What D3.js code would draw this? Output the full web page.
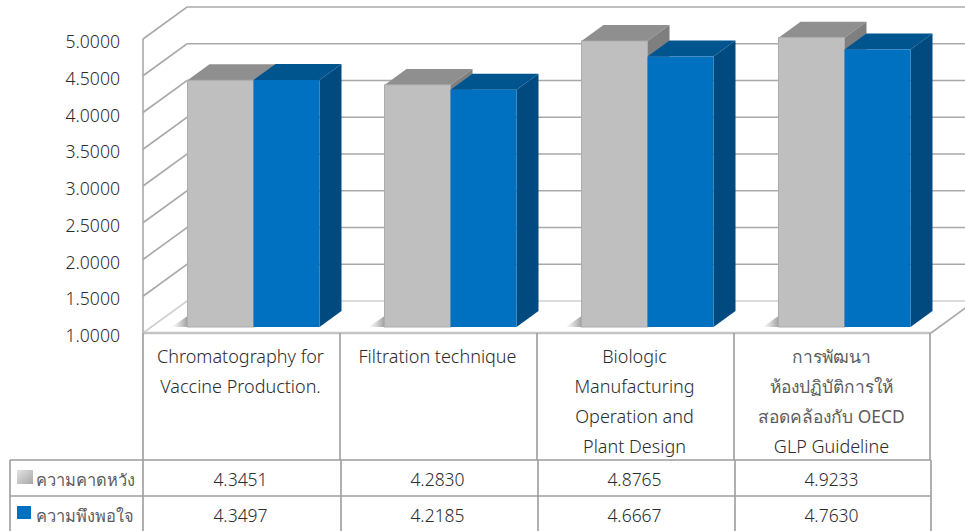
<!DOCTYPE html>
<html><head><meta charset="utf-8">
<script src="https://cdn.jsdelivr.net/npm/d3@7"></script>
<style>html,body{margin:0;padding:0;background:#fff;overflow:hidden}svg{display:block}text{font-family:"Noto Sans","Open Sans","DejaVu Sans",sans-serif;font-weight:300;fill:#2c2c2c}</style>
</head><body><div id="c"></div>
<script>
const categories = ["cat1","cat2","cat3","cat4"];
const categoryLines = [
  ["Chromatography for","Vaccine Production."],
  ["Filtration technique"],
  ["Biologic","Manufacturing","Operation and","Plant Design"],
  ["การพัฒนา","ห้องปฏิบัติการให้","สอดคล้องกับ OECD","GLP Guideline"]
];
const seriesNames = ["ความคาดหวัง","ความพึงพอใจ"];
const expected = [4.3451,4.2830,4.8765,4.9233];
const satisfied = [4.3497,4.2185,4.6667,4.7630];
const seriesValues = [expected,satisfied];
const tickValues = [1,1.5,2,2.5,3,3.5,4,4.5,5];

const W=965,H=531;
const svg=d3.select("#c").append("svg").attr("width",W).attr("height",H);
const defs=svg.append("defs");
const sw=defs.append("linearGradient").attr("id","sw").attr("x1",0).attr("y1",0).attr("x2",1).attr("y2",1);
sw.append("stop").attr("offset",0).attr("stop-color","#e2e2e2");
sw.append("stop").attr("offset",1).attr("stop-color","#a8a8a8");
const sh=defs.append("linearGradient").attr("id","sh").attr("x1",0).attr("y1",0).attr("x2",1).attr("y2",0);
sh.append("stop").attr("offset",0).attr("stop-color","#999").attr("stop-opacity",0);
sh.append("stop").attr("offset",1).attr("stop-color","#777").attr("stop-opacity",0.7);

const x=d3.scaleBand().domain(categories).range([143,931]);
const y=d3.scaleLinear().domain([1,5]).range([333,39]);
const yBar=d3.scaleLinear().domain([1,5]).range([327,32]);
const xs=d3.scaleBand().domain([0,1]).range([44.5,176.5]);
const depth={dx:44,dy:-32};
const barDepth={dx:22,dy:-16};
const gridC="#a9a9a9", tableC="#9c9c9c";

// walls
const g=svg.append("g").attr("fill","none").attr("stroke",gridC).attr("stroke-width",1.6);
tickValues.forEach(v=>{
  const yy=y(v);
  g.append("path").attr("d",`M143,${yy}L${143+depth.dx},${yy+depth.dy}L${W},${yy+depth.dy}`)
    .attr("stroke",v===1?"#cfcfcf":gridC);
});
g.append("line").attr("x1",143).attr("x2",143).attr("y1",y(5)).attr("y2",y(1));
g.append("path").attr("d",`M931,${y(1)}L${931+depth.dx},${y(1)+depth.dy}`).attr("stroke",gridC);
g.append("line").attr("x1",143).attr("x2",931).attr("y1",y(1)).attr("y2",y(1)).attr("stroke","#c4c4c4").attr("stroke-width",2.4);

// axis labels
const axis=d3.axisLeft(y).tickValues(tickValues).tickFormat(d3.format(".4f")).tickSize(0);
const ax=svg.append("g").attr("transform","translate(120,3)").call(axis);
ax.select(".domain").remove();
ax.selectAll("text").attr("font-size",17.6).attr("dx",0).attr("x",0).style("fill","#2c2c2c");

// bars
const palette=[{f:"#bfbfbf",t:"#8f8f8f",s:"#7f7f7f"},{f:"#0070c0",t:"#00558f",s:"#004a80"}];
const bars=svg.append("g");
categories.forEach((c,i)=>{
  const x0=x(c)+xs(0);
  bars.append("path").attr("d",`M${x0-16},327L${x0},327L${x0},316Z`).attr("fill","url(#sh)");
  [0,1].forEach(s=>{
    const p=palette[s];
    const l=x(c)+xs(s), r=l+xs.bandwidth();
    const t=yBar(seriesValues[s][i]), b=yBar(1);
    const d=barDepth;
    bars.append("path").attr("d",`M${l},${t}L${l+d.dx},${t+d.dy}L${r+d.dx},${t+d.dy}L${r},${t}Z`).attr("fill",p.t);
    bars.append("path").attr("d",`M${r},${t}L${r+d.dx},${t+d.dy}L${r+d.dx},${b+d.dy}L${r},${b}Z`).attr("fill",p.s);
    bars.append("rect").attr("x",l).attr("y",t).attr("width",r-l).attr("height",b-t).attr("fill",p.f)
      .attr("stroke",s===0?"#adadad":"none").attr("stroke-width",s===0?1:0);
  });
});

// data table
const rowY=[460,496,532], colX=[10,143,341,538,735,931];
const tb=svg.append("g").attr("stroke",tableC).attr("stroke-width",1.6).attr("fill","none");
categories.forEach((c,i)=>{
  tb.append("line").attr("x1",x(c)).attr("x2",x(c)).attr("y1",y(1)).attr("y2",rowY[0]);
});
tb.append("line").attr("x1",930).attr("x2",930).attr("y1",y(1)).attr("y2",rowY[0]);
rowY.slice(0,2).forEach(v=>tb.append("line").attr("x1",colX[0]).attr("x2",colX[5]).attr("y1",v).attr("y2",v));
colX.forEach(v=>tb.append("line").attr("x1",v).attr("x2",v).attr("y1",rowY[0]).attr("y2",H));

// category labels
const hasThai=t=>/[\u0E00-\u0E7F]/.test(t);
const thaiFill="#5c5c5c";
categories.forEach((c,i)=>{
  categoryLines[i].forEach((ln,j)=>{
    const th=hasThai(ln);
    svg.append("text").attr("x",x(c)+x.bandwidth()/2-1).attr("y",363+j*30).attr("text-anchor","middle")
      .attr("font-size",th?17.4:18).style("font-weight",th?400:300).style("fill",th?thaiFill:"#2c2c2c").text(ln);
  });
});
// values
const rowText=[486,522];
seriesValues.forEach((vals,s)=>{
  vals.forEach((v,i)=>{
    svg.append("text").attr("x",x(categories[i])+x.bandwidth()/2-1).attr("y",rowText[s]).attr("text-anchor","middle").attr("font-size",17.5).text(d3.format(".4f")(v));
  });
  svg.append("text").attr("x",36).attr("y",rowText[s]).attr("font-size",16.4).style("font-weight",400).style("fill",thaiFill).text(seriesNames[s]);
});
svg.append("rect").attr("x",17).attr("y",470).attr("width",16).attr("height",14).attr("fill","url(#sw)");
svg.append("rect").attr("x",17).attr("y",506).attr("width",14).attr("height",13).attr("fill","#0070c0");
</script></body></html>
